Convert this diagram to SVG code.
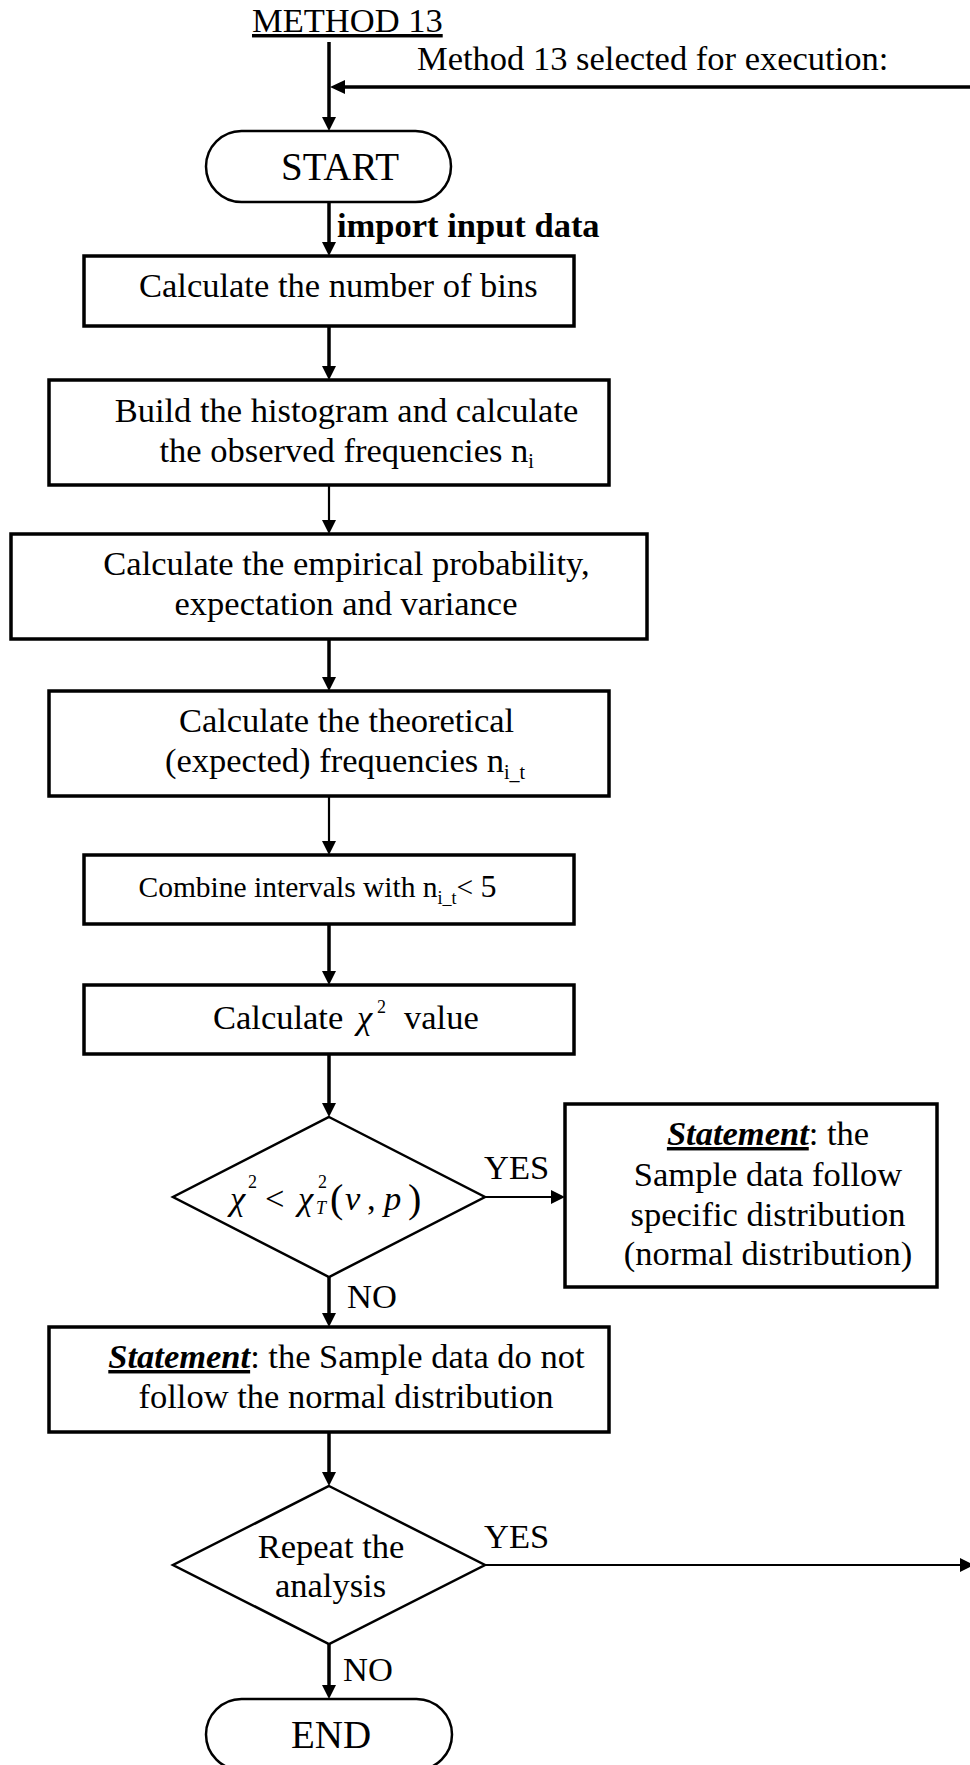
<svg xmlns="http://www.w3.org/2000/svg" width="970" height="1765" viewBox="0 0 970 1765">
<style>
text{font-family:"Liberation Serif","Times New Roman",serif;font-size:34.5px;fill:#000}
.c{text-anchor:middle}
.b{font-weight:bold}
.bi{font-weight:bold;font-style:italic;text-decoration:underline}
.i{font-style:italic}
.sub{font-size:20px}
.box{fill:#fff;stroke:#000;stroke-width:3.5}
.thin{fill:#fff;stroke:#000;stroke-width:2.5}
.ln{fill:none;stroke:#000;stroke-width:3.5}
.lt{fill:none;stroke:#000;stroke-width:2.2}
.ah{fill:#000;stroke:none}
</style>
<rect width="970" height="1765" fill="#fff"/>
<g id="connectors">
<path class="ln" d="M329 42 V118"/><polygon class="ah" points="322,117 336,117 329,131"/>
<path class="ln" d="M970 87 H343"/><polygon class="ah" points="330,87 345,80 345,94"/>
<path class="ln" d="M329 202 V243"/><polygon class="ah" points="322,242 336,242 329,256"/>
<path class="ln" d="M329 326 V367"/><polygon class="ah" points="322,366 336,366 329,380"/>
<path class="lt" d="M329 485 V521"/><polygon class="ah" points="322,520 336,520 329,534"/>
<path class="ln" d="M329 639 V678"/><polygon class="ah" points="322,677 336,677 329,691"/>
<path class="lt" d="M329 796 V842"/><polygon class="ah" points="322,841 336,841 329,855"/>
<path class="ln" d="M329 924 V972"/><polygon class="ah" points="322,971 336,971 329,985"/>
<path class="ln" d="M329 1054 V1104"/><polygon class="ah" points="322,1103 336,1103 329,1117"/>
<path class="lt" d="M485 1197 H552"/><polygon class="ah" points="551,1190 551,1204 565,1197"/>
<path class="ln" d="M329 1277 V1314"/><polygon class="ah" points="322,1313 336,1313 329,1327"/>
<path class="ln" d="M329 1432 V1473"/><polygon class="ah" points="322,1472 336,1472 329,1486"/>
<path class="lt" d="M485 1565 H962"/><polygon class="ah" points="960,1558 960,1572 974,1565"/>
<path class="ln" d="M329 1644 V1686"/><polygon class="ah" points="322,1685 336,1685 329,1699"/>
</g>
<g id="labels">
<text x="252" y="32" style="text-decoration:underline">METHOD 13</text>
<text x="417" y="70">Method 13 selected for execution:</text>
<text x="337" y="237" class="b">import input data</text>
<text x="484" y="1179">YES</text>
<text x="347" y="1308">NO</text>
<text x="484" y="1548">YES</text>
<text x="343" y="1681">NO</text>
</g>
<g id="start">
<rect class="thin" x="206" y="131" width="245" height="71" rx="35.5"/>
<text x="340" y="180" class="c" style="font-size:39px">START</text>
</g>
<g id="box1">
<rect class="box" x="84" y="256" width="490" height="70"/>
<text x="139" y="297">Calculate the number of bins</text>
</g>
<g id="box2">
<rect class="box" x="49" y="380" width="560" height="105"/>
<text x="346.5" y="422" class="c">Build the histogram and calculate</text>
<text x="159.5" y="462">the observed frequencies n<tspan class="sub" y="468">i</tspan></text>
</g>
<g id="box3">
<rect class="box" x="11" y="534" width="636" height="105"/>
<text x="346.5" y="575" class="c">Calculate the empirical probability,</text>
<text x="346" y="615" class="c">expectation and variance</text>
</g>
<g id="box4">
<rect class="box" x="49" y="691" width="560" height="105"/>
<text x="346.5" y="732" class="c">Calculate the theoretical</text>
<text x="165" y="772">(expected) frequencies n<tspan class="sub" y="779">i_t</tspan></text>
</g>
<g id="box5">
<rect class="box" x="84" y="855" width="490" height="69"/>
<text x="138.5" y="897" style="font-size:29.5px">Combine intervals with n<tspan style="font-size:18px" y="904">i_t</tspan><tspan y="897">&lt; </tspan><tspan style="font-size:32px">5</tspan></text>
</g>
<g id="box6">
<rect class="box" x="84" y="985" width="490" height="69"/>
<text x="213" y="1029">Calculate</text>
<text x="357" y="1029" class="i">χ</text>
<text x="377" y="1013" style="font-size:18px">2</text>
<text x="404" y="1029">value</text>
</g>
<g id="decision1">
<polygon class="thin" points="329,1117 485,1197 329,1277 173,1197"/>
<text x="230" y="1210" class="i">χ</text>
<text x="248" y="1188" style="font-size:18px">2</text>
<text x="265" y="1210">&lt;</text>
<text x="298" y="1210" class="i">χ</text>
<text x="318" y="1188" style="font-size:18px">2</text>
<text x="316" y="1214" class="i" style="font-size:18px">T</text>
<text x="330" y="1212" style="font-size:40px">(</text>
<text x="345" y="1210" class="i">ν</text>
<text x="367" y="1210">,</text>
<text x="384" y="1210" class="i">p</text>
<text x="408" y="1212" style="font-size:40px">)</text>
</g>
<g id="statement-yes">
<rect class="box" x="565" y="1104" width="372" height="183"/>
<text x="768" y="1145" class="c"><tspan class="bi">Statement</tspan>: the</text>
<text x="768" y="1186" class="c">Sample data follow</text>
<text x="768" y="1226" class="c">specific distribution</text>
<text x="768" y="1265" class="c">(normal distribution)</text>
</g>
<g id="statement-no">
<rect class="box" x="49" y="1327" width="560" height="105"/>
<text x="108.3" y="1368"><tspan class="bi">Statement</tspan>: the Sample data do not</text>
<text x="346" y="1408" class="c">follow the normal distribution</text>
</g>
<g id="decision2">
<polygon class="thin" points="329,1486 485,1565 329,1644 173,1565"/>
<text x="331" y="1558" class="c">Repeat the</text>
<text x="330.5" y="1597" class="c">analysis</text>
</g>
<g id="end">
<rect class="thin" x="206" y="1699" width="246" height="71" rx="35.5"/>
<text x="331" y="1748" class="c" style="font-size:39px">END</text>
</g>
</svg>
